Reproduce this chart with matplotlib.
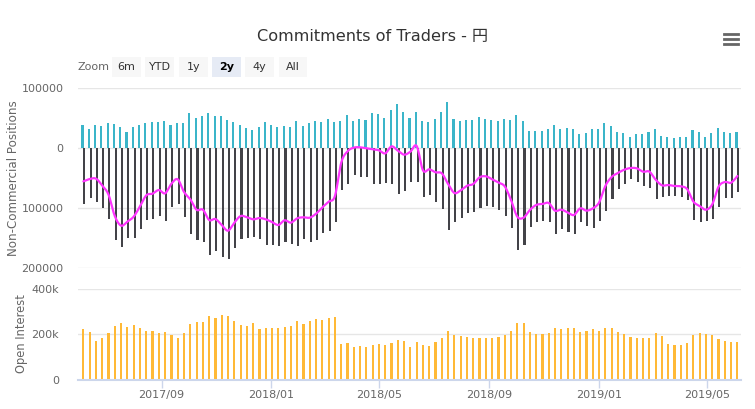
import numpy as np
import pandas as pd
import matplotlib
matplotlib.use('Agg')
import matplotlib.pyplot as plt
import matplotlib.dates as mdates
from matplotlib.patches import Rectangle
from matplotlib.lines import Line2D
from matplotlib.ticker import FuncFormatter

plt.rcParams['font.family'] = ['DejaVu Sans', 'Noto Sans CJK JP']

# weekly COT report dates (Tuesdays)
dates = pd.date_range('2017-06-06', periods=105, freq='7D')

# non-commercial longs / shorts, thousands of contracts
longs = [38.3, 32.2, 38.3, 36.7, 41.1, 39.7, 35.0, 26.7, 35.0, 38.3,
         41.1, 42.8, 42.8, 45.6, 38.3, 41.1, 41.1, 57.8, 50.3, 53.3,
         57.8, 53.3, 53.3, 47.2, 42.8, 38.3, 33.9, 29.4, 35.0, 42.8,
         38.3, 35.0, 36.7, 35.0, 45.6, 36.7, 41.1, 44.4, 42.8, 48.3,
         42.8, 45.6, 55.0, 45.6, 48.9, 47.2, 57.8, 56.1, 50.0, 63.3,
         72.8, 60.6, 50.0, 59.4, 44.4, 42.8, 48.9, 59.4, 76.1, 48.9,
         45.6, 46.0, 47.2, 51.7, 48.9, 46.1, 45.6, 48.9, 46.1, 55.0,
         45.6, 27.8, 27.8, 27.8, 31.1, 38.3, 32.2, 33.3, 31.1, 23.3,
         25.0, 32.2, 31.1, 41.1, 36.7, 26.7, 24.4, 18.3, 23.3, 23.3,
         26.7, 32.2, 20.0, 18.3, 16.7, 18.3, 18.3, 30.6, 26.1, 18.3,
         24.4, 33.3, 26.1, 25.0, 26.1]
shorts = [93.9, 83.9, 89.4, 99.4, 118.9, 153.3, 164.4, 149.4, 149.4, 135.6,
          120.0, 118.9, 112.8, 121.1, 97.8, 93.3, 114.4, 143.3, 153.3, 156.1,
          177.8, 171.7, 181.7, 185.0, 167.2, 151.7, 149.4, 148.3, 151.7, 161.7,
          161.7, 163.3, 157.2, 159.4, 162.8, 152.2, 157.2, 153.9, 141.7, 137.8,
          122.8, 70.0, 60.6, 45.0, 47.8, 47.8, 60.0, 60.0, 58.9, 60.6,
          77.2, 71.7, 56.1, 56.1, 81.7, 78.3, 89.4, 101.7, 136.1, 123.9,
          116.1, 108.9, 107.2, 100.6, 96.1, 98.3, 103.3, 112.8, 132.8, 169.4,
          161.7, 131.1, 122.8, 121.1, 122.8, 142.8, 135.0, 140.6, 142.8, 123.9,
          129.4, 132.8, 122.0, 104.4, 85.0, 68.3, 60.6, 51.7, 57.2, 62.8,
          66.1, 85.0, 82.2, 80.0, 80.0, 82.2, 86.7, 120.0, 122.8, 121.1,
          118.3, 97.8, 82.8, 82.8, 72.8]
net = [-55.6, -51.7, -51.1, -62.7, -77.8, -113.6, -129.4, -122.7, -114.4, -97.3,
       -78.9, -76.1, -70.0, -75.5, -59.5, -52.2, -73.3, -85.5, -103.0, -102.8,
       -120.0, -118.4, -128.4, -137.8, -124.4, -113.4, -115.5, -118.9, -116.7, -118.9,
       -123.4, -128.3, -120.5, -124.4, -117.2, -115.5, -116.1, -109.5, -98.9, -89.5,
       -80.0, -24.4, -5.6, 0.6, 1.1, -0.6, -2.2, -3.9, -8.9, 2.7,
       -4.4, -11.1, -6.1, 3.3, -37.3, -35.5, -40.5, -42.3, -60.0, -75.0,
       -70.5, -62.9, -60.0, -48.9, -47.2, -52.2, -57.7, -63.9, -86.7, -114.4,
       -116.1, -103.3, -95.0, -93.3, -91.7, -104.5, -102.8, -107.3, -111.7, -100.6,
       -104.4, -100.6, -90.9, -63.3, -48.3, -41.6, -36.2, -33.4, -33.9, -39.5,
       -39.4, -52.8, -62.2, -61.7, -63.3, -63.9, -68.4, -89.4, -96.7, -102.8,
       -93.9, -64.5, -56.7, -57.8, -46.7]
open_interest = [222, 210, 170, 182, 206, 237, 250, 233, 241, 228,
                 215, 215, 206, 210, 197, 182, 206, 247, 255, 255,
                 281, 273, 286, 281, 259, 241, 237, 250, 222, 228,
                 228, 228, 233, 237, 259, 246, 259, 270, 264, 273,
                 277, 157, 161, 145, 148, 145, 153, 157, 153, 161,
                 175, 170, 145, 166, 153, 148, 166, 182, 215, 197,
                 193, 187, 182, 185, 182, 182, 190, 197, 215, 250,
                 250, 210, 201, 201, 206, 230, 222, 230, 227, 210,
                 215, 222, 215, 228, 227, 210, 201, 188, 182, 182,
                 185, 206, 193, 157, 153, 153, 161, 197, 206, 201,
                 197, 178, 170, 166, 166]

month_ticks = ['2017-09-01', '2018-01-01', '2018-05-01',
               '2018-09-01', '2019-01-01', '2019-05-01']

W, H = 755, 409


def fx(px):
    return px / W


def fy(py):
    return 1 - py / H


def spline(x, y, n=10):
    # catmull-rom, close to the highcharts spline look
    x = np.asarray(x, float)
    y = np.asarray(y, float)
    t = np.linspace(0, 1, n, endpoint=False)
    xs, ys = [], []
    for i in range(len(x) - 1):
        i0, i3 = max(i - 1, 0), min(i + 2, len(x) - 1)
        for arr, out in ((x, xs), (y, ys)):
            a0, a1, a2, a3 = arr[i0], arr[i], arr[i + 1], arr[i3]
            out.extend(0.5 * (2 * a1 + (a2 - a0) * t
                              + (2 * a0 - 5 * a1 + 4 * a2 - a3) * t ** 2
                              + (3 * a1 - a0 - 3 * a2 + a3) * t ** 3))
    xs.append(x[-1])
    ys.append(y[-1])
    return xs, ys


xd = mdates.date2num(dates)
longs_v = np.array(longs) * 1000
shorts_v = np.array(shorts) * 1000
net_v = np.array(net) * 1000
oi_v = np.array(open_interest) * 1000

fig = plt.figure(figsize=(7.55, 4.09), dpi=100)
fig.patch.set_facecolor('white')

left, right = fx(78), fx(741)
ax1 = fig.add_axes([left, fy(268), right - left, fy(88) - fy(268)])
ax2 = fig.add_axes([left, fy(379.5), right - left, fy(289.3) - fy(379.5)])

xlim = (mdates.date2num(pd.Timestamp('2017-05-31')),
        mdates.date2num(pd.Timestamp('2019-06-08')))

# positions panel
ax1.bar(xd - 1.0, longs_v, width=2.3, color='#3bb5c9', zorder=2)
ax1.bar(xd + 1.0, -shorts_v, width=2.3, color='#434348', zorder=2)
sx, sy = spline(xd, net_v)
ax1.plot(sx, sy, color='#ff33ff', lw=1.6, zorder=3, solid_capstyle='round')
ax1.set_xlim(*xlim)
ax1.set_ylim(-200000, 100000)
ax1.set_yticks([-200000, -100000, 0, 100000])
ax1.yaxis.set_major_formatter(FuncFormatter(lambda v, p: '%d' % abs(v)))
ax1.grid(axis='y', color='#e6e6e6', lw=1)
ax1.set_axisbelow(True)
ax1.tick_params(axis='y', length=0, labelsize=8, labelcolor='#666666', pad=10.5)
ax1.tick_params(axis='x', bottom=False, labelbottom=False)
for s in ax1.spines.values():
    s.set_visible(False)

# open interest panel
ax2.bar(xd, oi_v, width=2.4, color='#ffb936', zorder=2)
ax2.set_xlim(*xlim)
ax2.set_ylim(0, 400000)
ax2.set_yticks([0, 200000, 400000])
ax2.set_yticklabels(['0', '200k', '400k'])
ax2.grid(axis='y', color='#e6e6e6', lw=1)
ax2.set_axisbelow(True)
ax2.set_xticks(mdates.date2num(pd.to_datetime(month_ticks)))
ax2.xaxis.set_major_formatter(mdates.DateFormatter('%Y/%m'))
ax2.tick_params(axis='y', length=0, labelsize=8, labelcolor='#666666', pad=13.5)
ax2.tick_params(axis='x', direction='out', length=5.8, width=1, color='#ccd6eb',
                labelsize=8, labelcolor='#666666', pad=1.5)
for s in ax2.spines.values():
    s.set_visible(False)
ax2.spines['bottom'].set_visible(True)
ax2.spines['bottom'].set_color('#ccd6eb')
ax2.spines['bottom'].set_linewidth(1.5)
ax2.spines['bottom'].set_zorder(3)

# axis titles
fig.text(fx(14), fy(178), 'Non-Commercial Positions', rotation=90,
         ha='center', va='center', fontsize=8.6, color='#666666')
fig.text(fx(22), fy(334), 'Open Interest', rotation=90,
         ha='center', va='center', fontsize=8.3, color='#666666')

# title
fig.text(fx(373), fy(36), 'Commitments of Traders - 円', ha='center', va='center',
         fontsize=11.6, color='#333333')

# range selector
fig.text(fx(78), fy(67), 'Zoom', ha='left', va='center', fontsize=8, color='#666666')
buttons = ['6m', 'YTD', '1y', '2y', '4y', 'All']
btn_left = [112, 145.3, 179, 212, 245.3, 278.7]
for lab, bx in zip(buttons, btn_left):
    sel = lab == '2y'
    fig.patches.append(Rectangle((fx(bx), fy(77)), fx(28.7), fy(57) - fy(77),
                                 transform=fig.transFigure,
                                 facecolor='#e6ebf5' if sel else '#f7f7f7',
                                 edgecolor='none'))
    fig.text(fx(bx + 14.3), fy(66.5), lab, ha='center', va='center', fontsize=8,
             color='#000000' if sel else '#333333',
             fontweight='bold' if sel else 'normal')

# export menu icon
for yy in (33.5, 38.5, 43.5):
    fig.lines.append(Line2D([fx(724), fx(738)], [fy(yy), fy(yy)],
                            transform=fig.transFigure, color='#666666', lw=2))

fig.savefig('out.png', dpi=100)
